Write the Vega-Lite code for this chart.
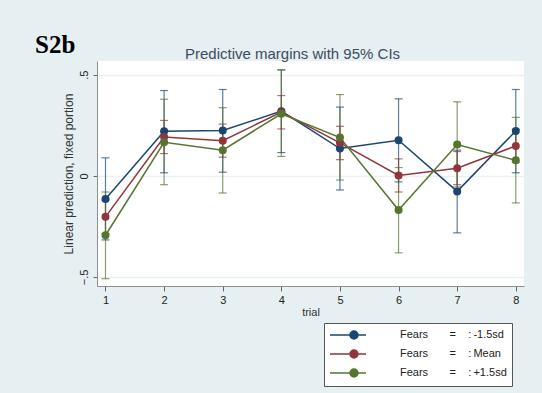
{
  "$schema": "https://vega.github.io/schema/vega-lite/v6.json",
  "width": 427,
  "height": 225,
  "autosize": {"type": "none"},
  "padding": {"left": 97, "top": 61, "right": 18, "bottom": 107},
  "background": "#e6eff1",
  "title": {
    "text": "S2b",
    "anchor": "start",
    "frame": "group",
    "dx": -62,
    "dy": 38,
    "font": "Liberation Serif",
    "fontSize": 25,
    "fontWeight": "bold",
    "color": "#000000",
    "baseline": "alphabetic",
    "offset": 6
  },
  "config": {
    "view": {"fill": "white", "stroke": null},
    "font": "Liberation Sans"
  },
  "data": {
    "values": [
      {"trial": 1, "group": "-1.5sd", "est": -0.115, "lo": -0.317, "hi": 0.089},
      {"trial": 2, "group": "-1.5sd", "est": 0.22, "lo": 0.015, "hi": 0.422},
      {"trial": 3, "group": "-1.5sd", "est": 0.224, "lo": 0.018, "hi": 0.427},
      {"trial": 4, "group": "-1.5sd", "est": 0.32, "lo": 0.115, "hi": 0.524},
      {"trial": 5, "group": "-1.5sd", "est": 0.135, "lo": -0.07, "hi": 0.34},
      {"trial": 6, "group": "-1.5sd", "est": 0.176, "lo": -0.03, "hi": 0.381},
      {"trial": 7, "group": "-1.5sd", "est": -0.077, "lo": -0.282, "hi": 0.127},
      {"trial": 8, "group": "-1.5sd", "est": 0.222, "lo": 0.015, "hi": 0.427},
      {"trial": 1, "group": "Mean", "est": -0.203, "lo": -0.286, "hi": -0.12},
      {"trial": 2, "group": "Mean", "est": 0.192, "lo": 0.11, "hi": 0.274},
      {"trial": 3, "group": "Mean", "est": 0.174, "lo": 0.092, "hi": 0.256},
      {"trial": 4, "group": "Mean", "est": 0.315, "lo": 0.232, "hi": 0.397},
      {"trial": 5, "group": "Mean", "est": 0.163, "lo": 0.08, "hi": 0.245},
      {"trial": 6, "group": "Mean", "est": 0.002, "lo": -0.08, "hi": 0.084},
      {"trial": 7, "group": "Mean", "est": 0.038, "lo": -0.044, "hi": 0.12},
      {"trial": 8, "group": "Mean", "est": 0.148, "lo": 0.066, "hi": 0.23},
      {"trial": 1, "group": "+1.5sd", "est": -0.294, "lo": -0.509, "hi": -0.08},
      {"trial": 2, "group": "+1.5sd", "est": 0.166, "lo": -0.044, "hi": 0.379},
      {"trial": 3, "group": "+1.5sd", "est": 0.127, "lo": -0.085, "hi": 0.337},
      {"trial": 4, "group": "+1.5sd", "est": 0.307, "lo": 0.096, "hi": 0.524},
      {"trial": 5, "group": "+1.5sd", "est": 0.189, "lo": -0.021, "hi": 0.402},
      {"trial": 6, "group": "+1.5sd", "est": -0.169, "lo": -0.381, "hi": 0.041},
      {"trial": 7, "group": "+1.5sd", "est": 0.155, "lo": -0.055, "hi": 0.366},
      {"trial": 8, "group": "+1.5sd", "est": 0.077, "lo": -0.134, "hi": 0.289}
    ]
  },
  "resolve": {"axis": {"x": "independent"}},
  "layer": [
    {
      "mark": {"type": "rule", "strokeWidth": 1.2, "strokeOpacity": 0.7},
      "encoding": {
        "x": {
          "field": "trial", "type": "quantitative",
          "scale": {"domain": [0.855, 8.14], "nice": false, "zero": false},
          "axis": {
            "orient": "bottom", "values": [1, 2, 3, 4, 5, 6, 7, 8], "format": "d",
            "title": "trial", "grid": false,
            "domainColor": "#8a8f94", "domainWidth": 1,
            "tickColor": "#666", "tickSize": 5, "tickWidth": 1,
            "labelFont": "Liberation Sans", "labelFontSize": 11, "labelColor": "#222", "labelPadding": 3,
            "titleFont": "Liberation Sans", "titleFontSize": 11, "titleFontWeight": "normal", "titleColor": "#333", "titlePadding": 1
          }
        },
        "y": {
          "field": "lo", "type": "quantitative",
          "scale": {"domain": [-0.545, 0.568], "nice": false, "zero": false},
          "axis": {
            "values": [-0.5, 0, 0.5],
            "labelExpr": "datum.value == 0 ? '0' : replace(format(datum.value, '.1f'), '0.', '.')",
            "title": "Linear prediction, fixed portion",
            "grid": true, "gridColor": "#e9f1f3", "gridWidth": 1.5,
            "domainColor": "#8a8f94", "domainWidth": 1,
            "tickColor": "#666", "tickSize": 4, "tickWidth": 1,
            "labelAngle": -90, "labelAlign": "center", "labelBaseline": "bottom",
            "labelFont": "Liberation Sans", "labelFontSize": 11, "labelColor": "#222", "labelPadding": 4,
            "titleFont": "Liberation Sans", "titleFontSize": 12, "titleFontWeight": "normal", "titleColor": "#333", "titlePadding": 3
          }
        },
        "y2": {"field": "hi"},
        "color": {
          "field": "group", "type": "nominal",
          "scale": {"domain": ["-1.5sd", "Mean", "+1.5sd"], "range": ["#1a476f", "#90353b", "#55752f"]}
        }
      }
    },
    {
      "mark": {"type": "tick", "orient": "horizontal", "size": 8, "thickness": 1.2, "fillOpacity": 0.7},
      "encoding": {
        "x": {"field": "trial", "type": "quantitative", "axis": null},
        "y": {"field": "lo", "type": "quantitative"},
        "color": {"field": "group", "type": "nominal"}
      }
    },
    {
      "mark": {"type": "tick", "orient": "horizontal", "size": 8, "thickness": 1.2, "fillOpacity": 0.7},
      "encoding": {
        "x": {"field": "trial", "type": "quantitative", "axis": null},
        "y": {"field": "hi", "type": "quantitative"},
        "color": {"field": "group", "type": "nominal"}
      }
    },
    {
      "mark": {"type": "line", "strokeWidth": 1.5},
      "encoding": {
        "x": {
          "field": "trial", "type": "quantitative",
          "axis": {
            "orient": "top", "labels": false, "ticks": false, "domain": false, "grid": false,
            "title": "Predictive margins with 95% CIs",
            "titleX": 195, "titleY": -3, "titleAlign": "center", "titleBaseline": "alphabetic",
            "titleFont": "Liberation Sans", "titleFontSize": 15, "titleFontWeight": "normal", "titleColor": "#3c4b5f"
          }
        },
        "y": {"field": "est", "type": "quantitative"},
        "color": {"field": "group", "type": "nominal"}
      }
    },
    {
      "mark": {"type": "point", "filled": true, "size": 64, "opacity": 1},
      "encoding": {
        "x": {"field": "trial", "type": "quantitative", "axis": null},
        "y": {"field": "est", "type": "quantitative"},
        "color": {
          "field": "group", "type": "nominal",
          "legend": {
            "orient": "none", "legendX": 227, "legendY": 262, "title": null,
            "strokeColor": "#555", "fillColor": "white", "padding": 5,
            "symbolType": "M-3,0L3,0M1.667,0A0.667,0.667,0,1,1,0.333,0A0.667,0.667,0,1,1,1.667,0Z",
            "symbolSize": 144, "symbolStrokeWidth": 1.5, "symbolOffset": 12, "labelOffset": 45,
            "symbolOpacity": 1,
            "rowPadding": 3,
            "labelFont": "Liberation Sans", "labelFontSize": 11, "labelColor": "#222", "labelLimit": 300,
            "labelExpr": "'Fears\u00a0\u00a0\u00a0\u00a0\u00a0\u00a0\u00a0=\u00a0\u00a0\u00a0\u00a0:\u2009' + datum.label + '\u00a0\u00a0\u00a0\u00a0\u00a0\u00a0\u00a0\u00a0\u00a0\u00a0\u00a0'"
          }
        }
      }
    }
  ]
}
